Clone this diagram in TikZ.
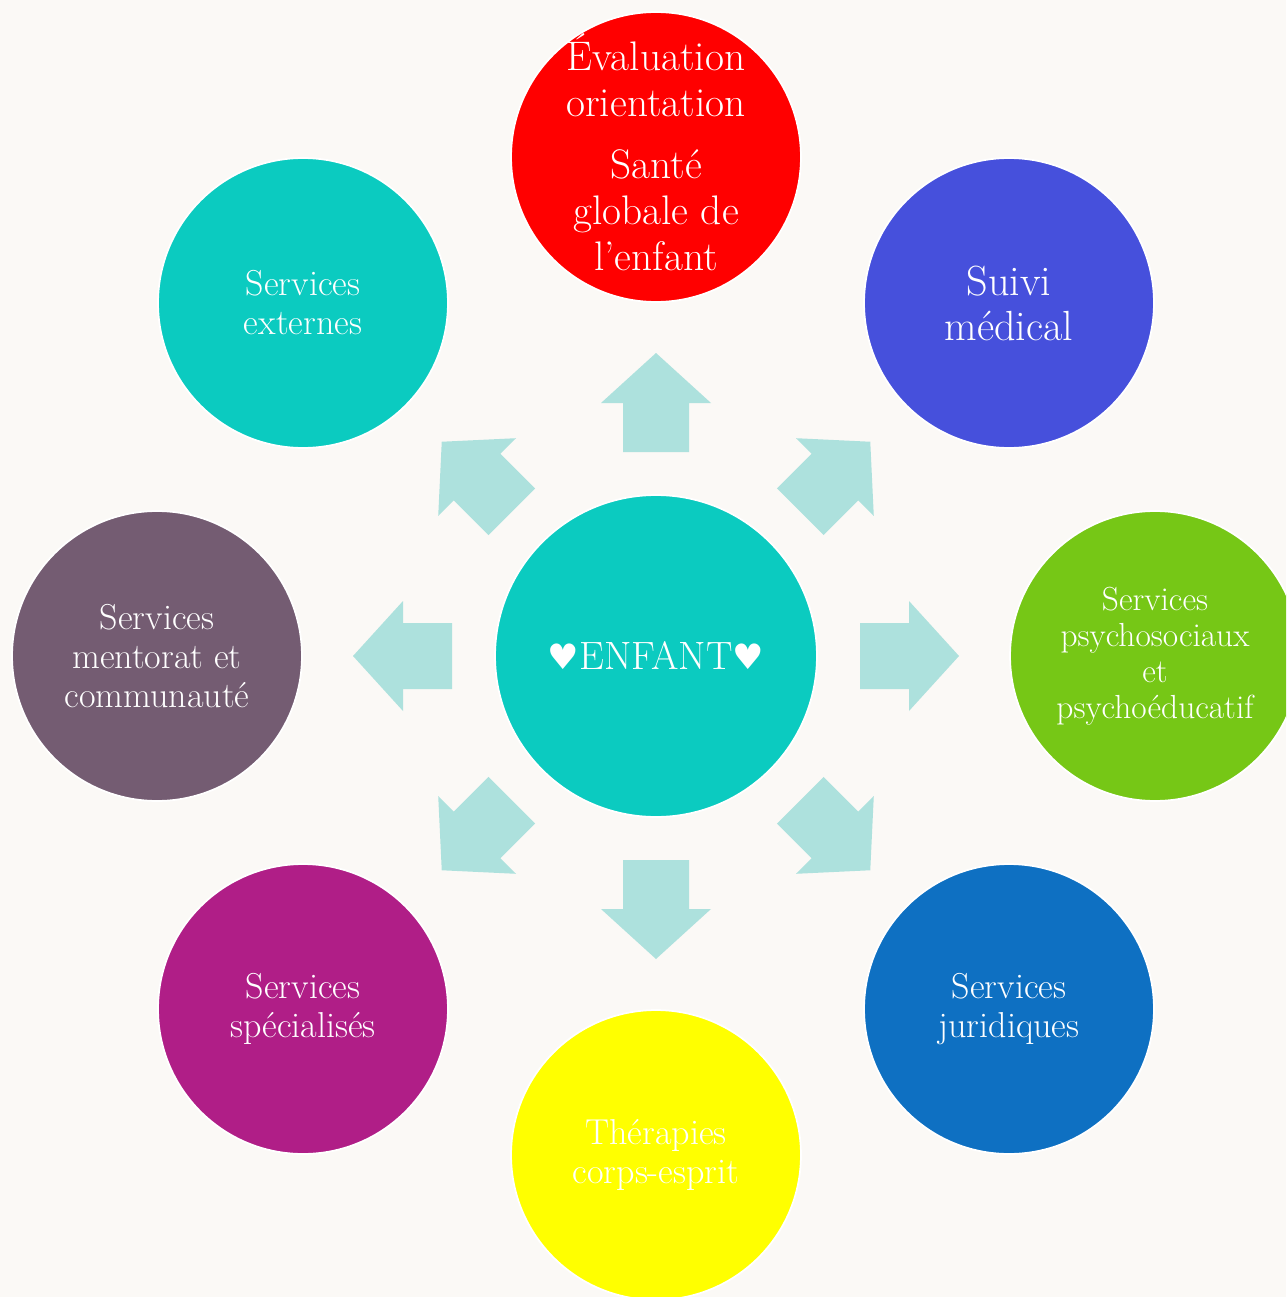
\documentclass[tikz,border=0pt]{standalone}
\usepackage{fontspec}
\newfontfamily\djv{DejaVu Sans}
\definecolor{bg}{HTML}{FBF9F6}
\definecolor{arrowc}{HTML}{ADE1DD}
\definecolor{cTop}{HTML}{FF0000}
\definecolor{cTR}{HTML}{4650DC}
\definecolor{cR}{HTML}{76C716}
\definecolor{cBR}{HTML}{0E70C2}
\definecolor{cB}{HTML}{FFFF00}
\definecolor{cBL}{HTML}{B01E87}
\definecolor{cL}{HTML}{745C72}
\definecolor{cTL}{HTML}{0BCBC0}
\definecolor{cC}{HTML}{0BCBC0}
\begin{document}
\begin{tikzpicture}[x=0.02cm,y=-0.02cm,
  outer/.style={circle,draw=white,line width=1pt,minimum size=5.8cm,inner sep=0pt,
    align=center,text=white},
  big/.style={font=\fontsize{23.5}{26.2}\selectfont},
  bigb/.style={font=\fontsize{24}{25.6}\selectfont},
  mid/.style={font=\fontsize{20.5}{22.2}\selectfont},
  small/.style={font=\fontsize{19}{20.5}\selectfont},
  blockarrow/.style={fill=arrowc}]
\useasboundingbox (0,0) rectangle (1286,1297);
\clip (0,0) rectangle (1286,1297);
\fill[bg] (0,0) rectangle (1286,1297);

\node[circle,fill=cC,draw=white,line width=1pt,minimum size=6.44cm,inner sep=0pt,
  text=white,font=\fontsize{22.5}{27}\selectfont] (c) at (656,656)
  {{\djv\fontsize{20}{24}\selectfont ♥}ENFANT{\djv\fontsize{20}{24}\selectfont ♥}};

\node[outer,fill=cTop] (top) at (656,157) {};
\node[align=center,text=white,big,inner sep=0pt] (toplbl) at ([yshift=0.1cm]top.center)
  {Évaluation\\orientation\\[9pt]Santé\\globale de\\l’enfant};
\node[outer,fill=cTR,bigb] (tr) at (1009,303) {Suivi\\médical};
\node[outer,fill=cR,small] (r) at (1155,656)
  {Services\\psychosociaux\\et\\psychoéducatif};
\node[outer,fill=cBR,mid] (br) at (1009,1009) {Services\\juridiques};
\node[outer,fill=cB,mid] (b) at (656,1155) {Thérapies\\corps-esprit};
\node[outer,fill=cBL,mid] (bl) at (303,1009) {Services\\spécialisés};
\node[outer,fill=cL,mid] (l) at (157,656) {Services\\mentorat et\\communauté};
\node[outer,fill=cTL,mid] (tl) at (303,303) {Services\\externes};

\foreach \a in {0,45,...,315}{
  \begin{scope}[shift={(c.center)},rotate=\a]
    \fill[blockarrow] (204,-33) -- (253,-33) -- (253,-55) -- (303,0)
      -- (253,55) -- (253,33) -- (204,33) -- cycle;
  \end{scope}
}
\end{tikzpicture}
\end{document}
